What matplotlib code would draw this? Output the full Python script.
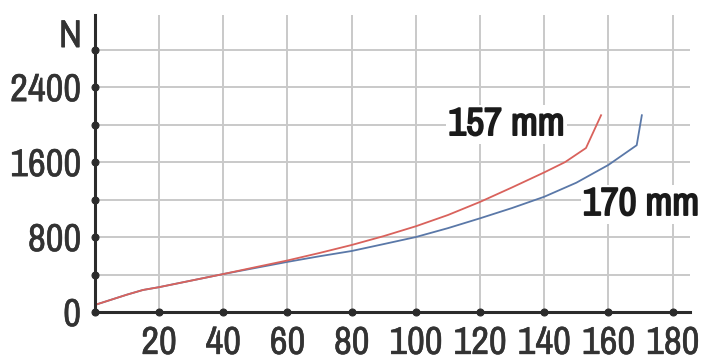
import matplotlib
matplotlib.use("Agg")
import matplotlib.pyplot as plt
from matplotlib import font_manager
import matplotlib.patheffects as pe

# Data
x_157 = [0, 5, 10, 15, 20, 30, 40, 50, 60, 70, 80, 90, 100, 110, 120, 130, 140, 146.5, 153, 157.7]
y_157 = [75, 130, 185, 235, 265, 335, 405, 478, 550, 630, 715, 810, 915, 1035, 1175, 1330, 1490, 1600, 1750, 2100]

x_170 = [0, 5, 10, 15, 20, 30, 40, 50, 60, 70, 80, 90, 100, 110, 120, 130, 140, 150, 160, 168.8, 170.4]
y_170 = [75, 130, 185, 235, 265, 335, 405, 470, 535, 595, 651, 725, 800, 895, 1000, 1110, 1230, 1380, 1570, 1780, 2100]

x_ticks = [20, 40, 60, 80, 100, 120, 140, 160, 180]
y_ticks = [0, 400, 800, 1200, 1600, 2000, 2400, 2800]
y_tick_labels = ['0', '', '800', '', '1600', '', '2400', '']

label_157 = '157 mm'
label_170 = '170 mm'
unit_label = 'N'

# pick a condensed family if one is installed
entries = font_manager.fontManager.ttflist
cond_names = sorted({f.name for f in entries if ('Condensed' in f.name or 'Narrow' in f.name)})
family = [cond_names[0]] if cond_names else []
family += ['Liberation Sans', 'DejaVu Sans']
plt.rcParams['font.family'] = family

red = '#d9625c'
blue = '#5a78a8'
axis_col = '#2b2b2b'
grid_col = '#c9c9c9'
text_col = '#333333'
label_col = '#1a1a1a'

fig = plt.figure(figsize=(7.12, 3.61), dpi=100)
renderer = fig.canvas.get_renderer()


def fit_size(s, target_px):
    t = fig.text(0, 0, s, fontsize=20)
    w = t.get_window_extent(renderer).width
    t.remove()
    return 20 * target_px / w


tick_fs = min(fit_size('2400', 72), 28)
bold_fs = min(fit_size(label_157, 116), 32)
bold_fx = [pe.withStroke(linewidth=1.3, foreground=label_col)]
tick_fx = [pe.withStroke(linewidth=0.4, foreground=text_col)]

ax = fig.add_axes([0.1331, 0.1357, 0.9691 - 0.1331, 0.958 - 0.1357])

ax.set_xlim(0, 185.4)
ax.set_ylim(0, 3168)

for s in ['top', 'right']:
    ax.spines[s].set_visible(False)
for s in ['left', 'bottom']:
    ax.spines[s].set_color(axis_col)
    ax.spines[s].set_linewidth(2.2)
    ax.spines[s].set_zorder(5)

ax.set_xticks(x_ticks)
ax.set_xticklabels([str(v) for v in x_ticks])
ax.set_yticks(y_ticks)
ax.set_yticklabels(y_tick_labels)

ax.tick_params(axis='both', length=0, labelsize=tick_fs, labelcolor=text_col)
ax.tick_params(axis='x', pad=10)
ax.tick_params(axis='y', pad=10)

for lab in ax.get_xticklabels() + ax.get_yticklabels():
    lab.set_path_effects(tick_fx)

for t in ax.xaxis.get_major_ticks() + ax.yaxis.get_major_ticks():
    t.tick1line.set_marker('o')
    t.tick1line.set_markersize(5)
    t.tick1line.set_markerfacecolor(axis_col)
    t.tick1line.set_markeredgecolor(axis_col)
    t.tick1line.set_zorder(6)
    t.tick1line.set_clip_on(False)

ax.grid(True, color=grid_col, linewidth=1.4, zorder=0)
ax.set_axisbelow(True)

ax.plot(x_170, y_170, color=blue, linewidth=1.3, zorder=3)
ax.plot(x_157, y_157, color=red, linewidth=1.3, zorder=3)

bbox = dict(facecolor='white', edgecolor='none', pad=1.5)
ax.text(110.1, 1888, label_157, fontsize=bold_fs, color=label_col,
        ha='left', va='baseline', bbox=bbox, zorder=4, path_effects=bold_fx)
ax.text(152.0, 1035, label_170, fontsize=bold_fs, color=label_col,
        ha='left', va='baseline', bbox=bbox, zorder=4, path_effects=bold_fx)

ax.text(-4, 2827, unit_label, fontsize=tick_fs, color=text_col, ha='right', va='baseline',
        clip_on=False, path_effects=tick_fx)

fig.savefig('out.png', dpi=100)
